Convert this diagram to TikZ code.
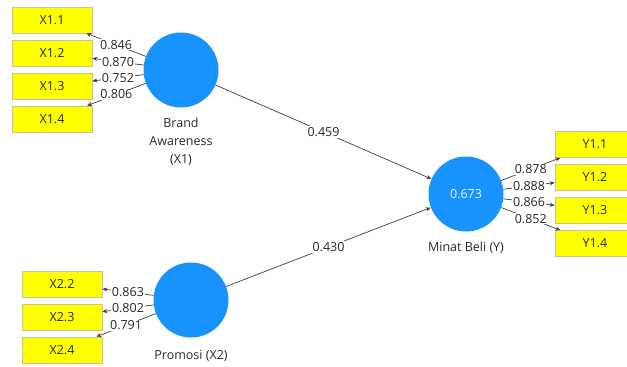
\documentclass[tikz,border=0pt]{standalone}
\usepackage{fontspec}
\setmainfont{Open Sans}
\usetikzlibrary{arrows.meta}
\definecolor{lvblue}{RGB}{24,146,252}
\definecolor{indyellow}{RGB}{255,255,0}
\definecolor{indborder}{RGB}{196,196,150}
\definecolor{edgegray}{RGB}{60,60,60}
\definecolor{txtgray}{RGB}{40,40,40}
\tikzset{
  latent/.style={circle, fill=lvblue, draw=none, minimum size=75pt, inner sep=0pt,
    text=white!90!lvblue, font=\fontsize{12.5}{15}\selectfont},
  indicator/.style={rectangle, fill=indyellow, draw=indborder, line width=0.6pt,
    minimum width=80pt, minimum height=26pt, inner sep=0pt,
    text=txtgray, font=\fontsize{12.5}{15}\selectfont},
  caption/.style={align=center, text=txtgray, font=\fontsize{12.5}{18}\selectfont},
  link/.style={draw=edgegray, line width=0.7pt, -{Stealth[length=5pt,width=4pt]}},
  weight/.style={fill=white, inner sep=1pt, text=txtgray, font=\fontsize{12.5}{15}\selectfont, pos=0.5}
}
\begin{document}
\begin{tikzpicture}[x=1pt,y=-1pt]
\useasboundingbox (0,0) rectangle (627,367);
\clip (0,0) rectangle (627,367);

% latent variables
\node[latent] (ba) at (181,70) {};
\node[latent] (pr) at (191,300) {};
\node[latent] (mb) at (466,194) {0.673};

\node[caption] (bacap) at (181,142) {Brand\\Awareness\\(X1)};
\node[caption] (prcap) at (191,356) {Promosi (X2)};
\node[caption] (mbcap) at (466,248) {Minat Beli (Y)};

% indicators
\node[indicator] (x11) at (52,20) {X1.1};
\node[indicator] (x12) at (52,53) {X1.2};
\node[indicator] (x13) at (52,86) {X1.3};
\node[indicator] (x14) at (52,119) {X1.4};

\node[indicator] (x22) at (62,284) {X2.2};
\node[indicator] (x23) at (62,317) {X2.3};
\node[indicator] (x24) at (62,350) {X2.4};

\node[indicator] (y11) at (595,144.5) {Y1.1};
\node[indicator] (y12) at (595,177.5) {Y1.2};
\node[indicator] (y13) at (595,210.5) {Y1.3};
\node[indicator] (y14) at (595,243.5) {Y1.4};

% outer loadings
\draw[link] (ba) -- node[weight]{0.846} (x11);
\draw[link] (ba) -- node[weight]{0.870} (x12);
\draw[link] (ba) -- node[weight]{0.752} (x13);
\draw[link] (ba) -- node[weight]{0.806} (x14);

\draw[link] (pr) -- node[weight]{0.863} (x22);
\draw[link] (pr) -- node[weight]{0.802} (x23);
\draw[link] (pr) -- node[weight]{0.791} (x24);

\draw[link] (mb) -- node[weight]{0.878} (y11);
\draw[link] (mb) -- node[weight]{0.888} (y12);
\draw[link] (mb) -- node[weight]{0.866} (y13);
\draw[link] (mb) -- node[weight]{0.852} (y14);

% path coefficients
\draw[link] (ba) -- node[weight]{0.459} (mb);
\draw[link] (pr) -- node[weight]{0.430} (mb);
\end{tikzpicture}
\end{document}
